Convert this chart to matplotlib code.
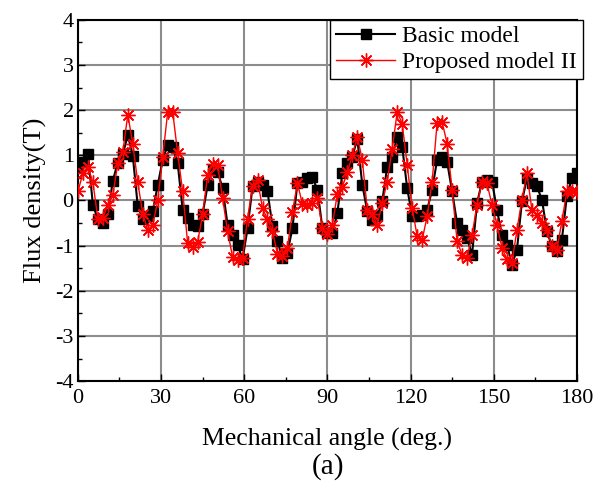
import numpy as np
import matplotlib.pyplot as plt

plt.rcParams['font.family'] = ['Liberation Serif', 'DejaVu Serif']
plt.rcParams['axes.unicode_minus'] = False

basic_model = [
    0.75, 0.85, 1.02, -0.09, -0.42, -0.50, -0.30, 0.44, 0.84, 1.02,
    1.45, 0.99, -0.13, -0.40, -0.35, -0.24, 0.34, 0.90, 1.23, 1.19,
    0.82, -0.21, -0.39, -0.54, -0.57, -0.30, 0.34, 0.68, 0.64, 0.27,
    -0.54, -0.76, -0.98, -1.30, -0.62, 0.31, 0.42, 0.35, 0.20, -0.57,
    -0.90, -1.27, -1.16, -0.61, 0.38, 0.42, 0.49, 0.51, 0.24, -0.61,
    -0.72, -0.72, -0.28, 0.60, 0.82, 0.97, 1.36, 0.35, -0.24, -0.43,
    -0.35, -0.02, 0.75, 0.97, 1.41, 1.19, 0.27, -0.35, -0.35, -0.32,
    -0.21, 0.24, 0.90, 0.97, 0.86, 0.20, -0.50, -0.65, -0.83, -1.20,
    -0.06, 0.42, 0.46, 0.42, -0.21, -0.76, -0.98, -1.42, -1.09, -0.02,
    0.49, 0.38, 0.31, 0.02, -0.68, -1.01, -1.12, -0.87, 0.09, 0.49,
    0.60,
]
proposed_model_2 = [
    0.20, 0.60, 0.75, 0.40, -0.40, -0.38, -0.10, 0.12, 0.82, 1.08,
    1.90, 1.25, 0.40, -0.30, -0.65, -0.55, 0.00, 0.97, 1.96, 1.96,
    1.04, 0.20, -0.95, -1.02, -0.92, -0.30, 0.56, 0.80, 0.78, 0.05,
    -0.68, -1.25, -1.32, -1.28, -0.40, 0.32, 0.45, -0.17, -0.42, -0.68,
    -1.18, -1.22, -1.05, -0.25, 0.38, -0.08, -0.11, -0.05, 0.05, -0.62,
    -0.75, -0.55, 0.15, 0.30, 0.62, 1.00, 1.41, 0.90, -0.20, -0.30,
    -0.54, -0.06, 0.42, 1.15, 1.96, 1.70, 0.79, -0.17, -0.79, -0.87,
    -0.35, 0.42, 1.72, 1.74, 1.26, 0.24, -0.90, -1.20, -1.27, -0.76,
    -0.10, 0.42, 0.38, -0.10, -0.54, -1.05, -1.30, -1.38, -0.65, 0.02,
    0.60, -0.21, -0.32, -0.50, -0.65, -1.01, -1.09, -0.46, 0.20, 0.20,
    0.18,
]
angle_basic = np.linspace(0, 180, len(basic_model))
angle_prop = np.linspace(0, 180, len(proposed_model_2))

x_ticks = [0, 30, 60, 90, 120, 150, 180]
y_ticks = [-4, -3, -2, -1, 0, 1, 2, 3, 4]

fig = plt.figure(figsize=(6.04, 4.95), dpi=100)
ax = fig.add_axes([0.129, 0.230, 0.826, 0.730])

ax.plot(angle_basic, basic_model, color='black', lw=1.5, marker='s',
        markersize=6.5, label='Basic model', zorder=3)
ax.plot(angle_prop, proposed_model_2, color='red', lw=1.0, marker=(8, 2, 0),
        markersize=10, markeredgewidth=1.0, label='Proposed model II', zorder=4)

ax.set_xlim(0, 180)
ax.set_ylim(-4, 4)
ax.set_xticks(x_ticks)
ax.set_yticks(y_ticks)
ax.set_xticks(np.arange(15, 180, 30), minor=True)
ax.set_yticks(np.arange(-3.5, 4, 1), minor=True)
ax.tick_params(which='both', direction='in', labelsize=16)
ax.tick_params(axis='x', pad=6)
ax.tick_params(axis='y', pad=3)
ax.tick_params(which='major', length=5, width=1)
ax.tick_params(which='minor', length=3, width=1)
ax.grid(True, which='major', color='#8c8c8c', lw=1.5)
for s in ax.spines.values():
    s.set_linewidth(1.5)

ax.set_xlabel('Mechanical angle (deg.)', fontsize=18.5, labelpad=14)
ax.set_ylabel('Flux density(T)', fontsize=19, labelpad=6)
fig.text(0.543, 0.058, '(a)', ha='center', va='center', fontsize=21)

leg = ax.legend(loc='upper right', bbox_to_anchor=(1.012, 1.0), fontsize=17,
                frameon=True, fancybox=False, borderaxespad=0,
                handlelength=2.5, handletextpad=0.3,
                borderpad=0.25, labelspacing=0.2)
leg.get_frame().set_edgecolor('black')
leg.get_frame().set_linewidth(1.0)
leg.get_frame().set_alpha(1)

fig.savefig('out.png', dpi=100)
